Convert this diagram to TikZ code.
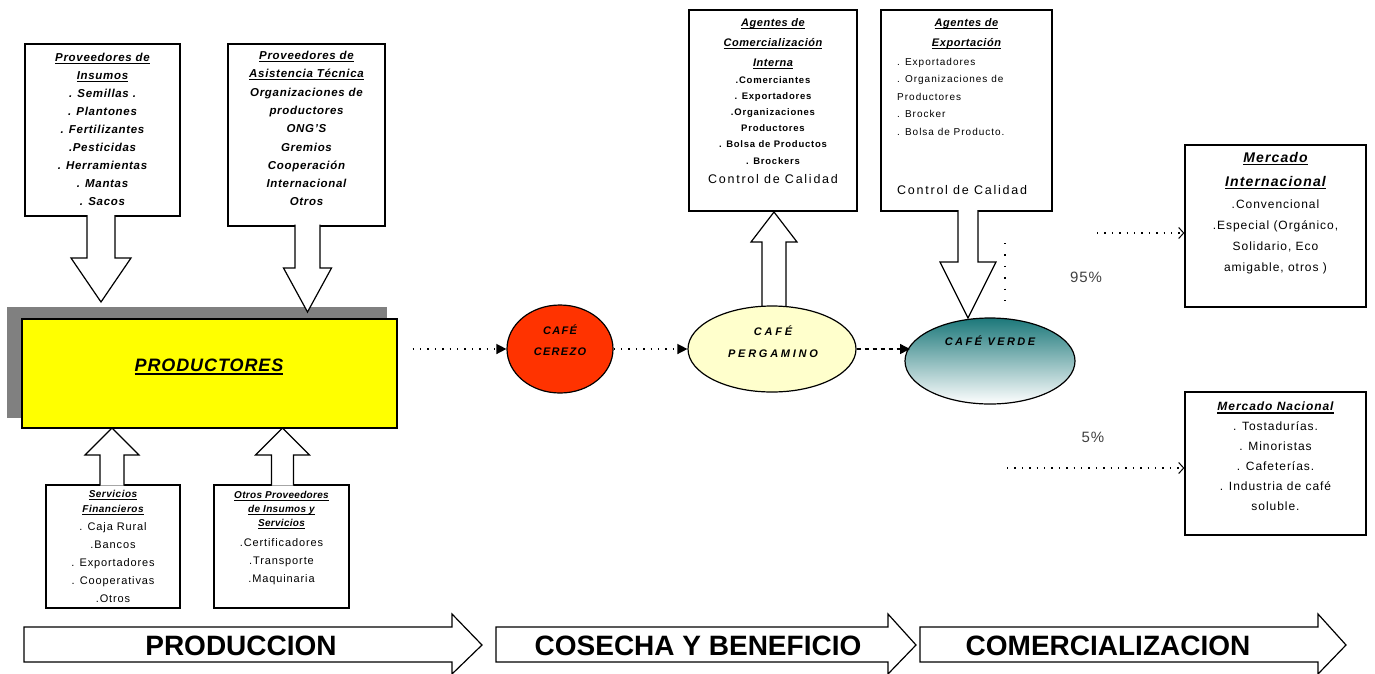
\documentclass[tikz,border=0pt]{standalone}
\usepackage{fontspec}
\setmainfont{Liberation Sans}
\usetikzlibrary{arrows.meta,calc,shapes.geometric}
\newcommand\uln[1]{\setbox0\hbox{#1}\rlap{\rule[-2.6pt]{\wd0}{1.1pt}}\box0}
\newcommand\setfs[3]{\fontsize{#1}{#2}\selectfont\addfontfeatures{LetterSpace=#3}}
\newcommand\vhollow[6]{\filldraw[hollow] (#1-#5,#2) -- (#1-#5,#3) -- (#1-#6,#3) -- (#1,#4) -- (#1+#6,#3) -- (#1+#5,#3) -- (#1+#5,#2);}
\newcommand\banner[3]{\filldraw[hollow] (#1,627) -- (#2,627) -- (#2,614) -- (#3,645) -- (#2,674) -- (#2,662) -- (#1,662) -- cycle;}
\definecolor{cerezored}{RGB}{255,51,0}
\definecolor{pergyellow}{RGB}{255,255,204}
\definecolor{verdeteal}{RGB}{28,120,122}
\definecolor{shadowgray}{RGB}{128,128,128}
\definecolor{prodyellow}{RGB}{255,255,0}
\begin{document}
\begin{tikzpicture}[x=1pt,y=-1pt,
  box/.style={draw, line width=1.3pt, fill=white, inner sep=0pt},
  txt/.style={inner sep=0pt, align=center, anchor=north},
  hollow/.style={draw, line width=1.2pt, fill=white, line join=miter},
  dotline/.style={line width=1.4pt, dash pattern=on 1.4pt off 6pt},
  filledtip/.style={-{Triangle[length=10pt,width=10pt]}},
  opentip/.style={-{Straight Barb[length=5pt,width=11pt,line width=1pt]}},
  ell/.style={ellipse, draw, line width=1.2pt, inner sep=0pt}]
\useasboundingbox (0,0) rectangle (1375,673);

% ---------- top-left boxes ----------
\node[box, minimum width=155pt, minimum height=172pt] (ins) at (102.5,130) {};
\node[txt, font=\setfs{11.5}{18}{6}\bfseries\itshape] (insT) at (102.5,53)
  {\uln{Proveedores de}\\\uln{Insumos}\\. Semillas .\\. Plantones\\. Fertilizantes\\.Pesticidas\\. Herramientas\\. Mantas\\. Sacos};
\node[box, minimum width=157pt, minimum height=182pt] (asis) at (306.5,135) {};
\node[txt, font=\setfs{11.5}{18.3}{6}\bfseries\itshape] (asisT) at (306.5,51)
  {\uln{Proveedores de}\\\uln{Asistencia Técnica}\\Organizaciones de\\productores\\ONG'S\\Gremios\\Cooperación\\Internacional\\Otros};

% ---------- productores ----------
\fill[shadowgray] (7,307) rectangle (387,418);
\node[draw, line width=1.3pt, fill=prodyellow, minimum width=375pt, minimum height=109pt, inner sep=0pt] (prod) at (209.5,373.5) {};
\node[inner sep=0pt, font=\setfs{18}{20}{5}\bfseries\itshape] (prodT) at (209,367) {\uln{PRODUCTORES}};

% ---------- bottom-left boxes ----------
\node[box, minimum width=134pt, minimum height=123pt] (fin) at (113,546.5) {};
\node[txt, font=\setfs{10}{15}{5}\bfseries\itshape] (finT) at (113,490) {\uln{Servicios}\\\uln{Financieros}};
\node[txt, font=\setfs{11}{18}{8}] (finI) at (113,522) {. Caja Rural\\.Bancos\\. Exportadores\\. Cooperativas\\.Otros};
\node[box, minimum width=135pt, minimum height=123pt] (otr) at (281.5,546.5) {};
\node[txt, font=\setfs{10}{14}{3}\bfseries\itshape] (otrT) at (281.5,491) {\uln{Otros Proveedores}\\\uln{de Insumos y}\\\uln{Servicios}};
\node[txt, font=\setfs{11}{18}{8}] (otrI) at (281.5,538) {.Certificadores\\.Transporte\\.Maquinaria};

% ---------- hollow arrows (left) ----------
\vhollow{101}{215}{258}{302}{14}{30}
\vhollow{307.5}{224.5}{268}{312}{12.5}{24}
\vhollow{112}{485.5}{455}{428}{12}{27}
\vhollow{282.5}{485.5}{455}{428}{11}{27}

% ---------- top-right boxes ----------
\node[box, minimum width=168pt, minimum height=201pt] (com) at (773,110.5) {};
\node[txt, font=\setfs{11}{20}{5}\bfseries\itshape] (comT) at (773,18) {\uln{Agentes de}\\\uln{Comercialización}\\\uln{Interna}};
\node[txt, font=\setfs{9.5}{16.2}{8}\bfseries] (comI) at (773,76) {.Comerciantes\\. Exportadores\\.Organizaciones\\Productores\\. Bolsa de Productos\\. Brockers};
\node[txt, font=\setfs{12.5}{15}{14}] (comC) at (773,174) {Control de Calidad};

\node[box, minimum width=171pt, minimum height=201pt] (exp) at (966.5,110.5) {};
\node[txt, font=\setfs{11}{20}{5}\bfseries\itshape] (expT) at (966.5,18) {\uln{Agentes de}\\\uln{Exportación}};
\node[txt, anchor=north west, align=left, font=\setfs{10}{17.5}{10}] (expI) at (897,58) {. Exportadores\\. Organizaciones de\\Productores\\. Brocker\\. Bolsa de Producto.};
\node[txt, anchor=north west, font=\setfs{12.5}{15}{14}] (expC) at (897,185) {Control de Calidad};

% ---------- hollow arrows (right) ----------
\vhollow{774}{306}{242}{212}{12}{23}
\vhollow{968}{210}{262}{318}{10}{28}

% ---------- ellipses ----------
\node[ell, fill=cerezored, minimum width=106pt, minimum height=88pt] (cer) at (560,349) {};
\node[inner sep=0pt, align=center, font=\setfs{11}{21}{12}\bfseries\itshape] (cerT) at (560,340) {CAFÉ\\CEREZO};
\node[ell, fill=pergyellow, minimum width=168pt, minimum height=86pt] (per) at (772,349) {};
\node[inner sep=0pt, align=center, font=\setfs{11}{22}{25}\bfseries\itshape] (perT) at (773,342) {CAFÉ\\PERGAMINO};
\node[ell, top color=verdeteal, bottom color=white, minimum width=170pt, minimum height=86pt] (ver) at (990,361) {};
\node[inner sep=0pt, font=\setfs{11}{12}{22}\bfseries\itshape] (verT) at (990,341) {CAFÉ VERDE};

% ---------- flow connectors ----------
\coordinate (p0) at ($(prod.east |- cer.west)+(15,0)$);
\coordinate (vw) at ($(ver.center)+(-80,-12)$);
\draw[dotline, filledtip] (p0) -- (cer.west);
\draw[dotline, filledtip] (cer.east) -- (per.west);
\draw[line width=1.4pt, dash pattern=on 4pt off 4pt, filledtip] (per.east) -- (vw);

% ---------- market boxes ----------
\node[box, minimum width=181pt, minimum height=162pt] (mi) at (1275.5,226) {};
\node[txt, font=\setfs{14}{24}{8}\bfseries\itshape] (miT) at (1275.5,152) {\uln{Mercado}\\\uln{Internacional}};
\node[txt, font=\setfs{12}{20.7}{8}] (miI) at (1275.5,200) {.Convencional\\.Especial (Orgánico,\\Solidario, Eco\\amigable, otros )};
\node[box, minimum width=181pt, minimum height=143pt] (mn) at (1275.5,463.5) {};
\node[txt, font=\setfs{12}{20}{8}\bfseries\itshape] (mnT) at (1275.5,402) {\uln{Mercado Nacional}};
\node[txt, font=\setfs{12}{20}{8}] (mnI) at (1275.5,421) {. Tostadurías.\\. Minoristas\\. Cafeterías.\\. Industria de café\\soluble.};

\coordinate (v0) at (1005,243);
\coordinate (v1) at (1005,306);
\draw[line width=1.4pt, dash pattern=on 1.4pt off 10pt] (v0) -- (v1);
\coordinate (i0) at (1097,233);
\draw[dotline, opentip] (i0) -- (mi.west |- i0);
\coordinate (n0) at (1007,468);
\draw[dotline, opentip] (n0) -- (mn.west |- n0);
\node[font=\setfs{15}{17}{6}, text=black!75] (p95) at (1086,277) {95\%};
\node[font=\setfs{15}{17}{6}, text=black!75] (p5) at (1093,437) {5\%};

% ---------- stage banners ----------
\banner{24}{452}{482}
\banner{496}{888}{916}
\banner{920}{1318}{1346}
\node[font=\fontsize{28}{30}\selectfont\bfseries] (b1) at (241,646) {PRODUCCION};
\node[font=\fontsize{28}{30}\selectfont\bfseries] (b2) at (698,646) {COSECHA Y BENEFICIO};
\node[font=\fontsize{28}{30}\selectfont\bfseries] (b3) at (1108,646) {COMERCIALIZACION};
\end{tikzpicture}
\end{document}
